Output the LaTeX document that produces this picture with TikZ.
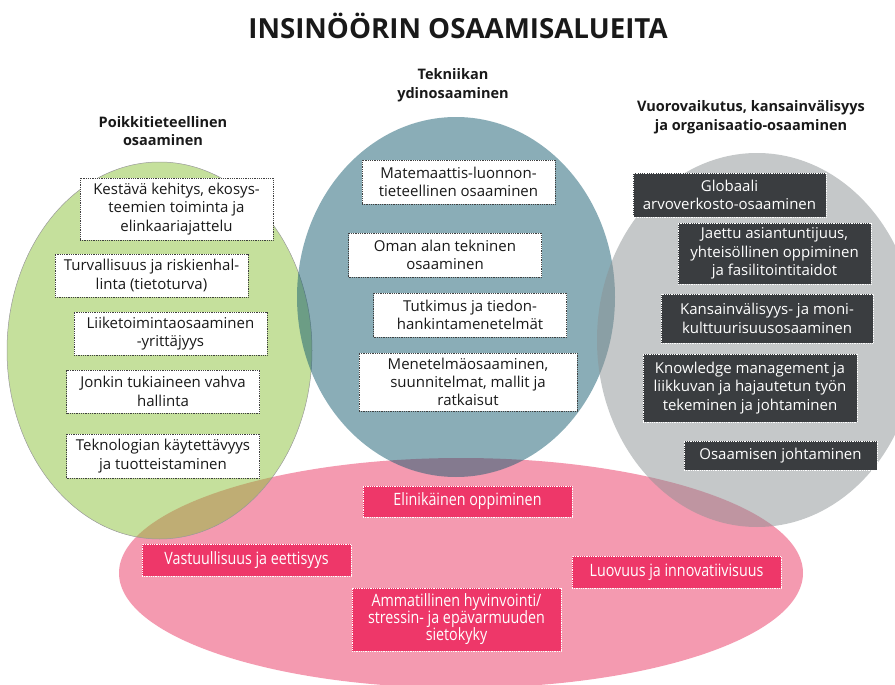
\documentclass[tikz,border=0pt]{standalone}
\usepackage{fontspec}
\setmainfont{Open Sans}
\newfontfamily\narrowfont{Open Sans}[FakeStretch=0.84]
\usepackage{tikz}
\usepackage{xcolor}

\definecolor{leafgreen}{RGB}{139,193,57}
\definecolor{petrol}{RGB}{21,91,111}
\definecolor{stonegray}{RGB}{139,145,147}
\definecolor{rose}{RGB}{233,53,97}
\definecolor{boxrose}{RGB}{238,55,105}
\definecolor{boxdark}{RGB}{58,61,64}

\tikzset{
  blob/.style={fill opacity=0.5},
  skillbox/.style={line width=0.6pt,dash pattern=on 0.9pt off 0.9pt,align=center,
    inner sep=2pt,minimum width=193pt,font=\fontsize{15}{18.3}\selectfont},
  whitebox/.style={skillbox,draw=black!75,fill=white,text=black!90},
  darkbox/.style={skillbox,draw=white,fill=boxdark,text=white},
  rosebox/.style={skillbox,draw=white,fill=boxrose,text=white,minimum width=209pt,
    font=\narrowfont\fontsize{17}{17}\selectfont},
  areatitle/.style={align=center,text=black!90,font=\bfseries\fontsize{14.5}{18.5}\selectfont}
}

\begin{document}
\begin{tikzpicture}[x=1pt,y=-1pt]
  \useasboundingbox (0,0) rectangle (895,685);

  % the four areas
  \fill[rose,blob] (461,573) ellipse (342 and 115);
  \fill[leafgreen,blob] (159.5,350.5) ellipse (152.5 and 188.5);
  \draw[gray!80,line width=0.5pt] (159.5,350.5) ellipse (152.5 and 188.5);
  \fill[petrol,blob] (456,297) ellipse (159 and 180);
  \fill[stonegray,blob] (757,340) ellipse (160 and 187);

  \node[font=\bfseries\fontsize{27.7}{32}\selectfont,text=black!90] (title) at (458,26) {INSINÖÖRIN OSAAMISALUEITA};

  \node[areatitle] (poikki) at (163,131) {Poikkitieteellinen\\osaaminen};
  \node[areatitle] (tekniikka) at (453,85) {Tekniikan\\ydinosaaminen};
  \node[areatitle] (vuoro) at (751,117) {Vuorovaikutus, kansainvälisyys\\ja organisaatio-osaaminen};

  % poikkitieteellinen
  \node[whitebox,minimum height=62pt] (kestava) at (176.5,209) {Kestävä kehitys, ekosys-\\teemien toiminta ja\\elinkaariajattelu};
  \node[whitebox,minimum height=43pt] (turva) at (151.5,275.5) {Turvallisuus ja riskienhal-\\linta (tietoturva)};
  \node[whitebox,minimum height=43pt] (liike) at (170.5,333.5) {Liiketoimintaosaaminen\\-yrittäjyys};
  \node[whitebox,minimum height=43pt] (tuki) at (163,391.5) {Jonkin tukiaineen vahva\\hallinta};
  \node[whitebox,minimum height=44pt] (tekno) at (163,456) {Teknologian käytettävyys\\ja tuotteistaminen};

  % tekniikan ydinosaaminen
  \node[whitebox,minimum height=44pt] (mate) at (458.5,182) {Matemaattis-luonnon-\\tieteellinen osaaminen};
  \node[whitebox,minimum height=44pt] (oman) at (445,255) {Oman alan tekninen\\osaaminen};
  \node[whitebox,minimum height=44pt] (tutkimus) at (470,315) {Tutkimus ja tiedon-\\hankintamenetelmät};
  \node[whitebox,minimum width=218pt,minimum height=58pt] (menetelma) at (468,382) {Menetelmäosaaminen,\\suunnitelmat, mallit ja\\ratkaisut};

  % vuorovaikutus
  \node[darkbox,minimum height=44pt] (globaali) at (729.5,195) {Globaali\\arvoverkosto-osaaminen};
  \node[darkbox,minimum height=61pt] (jaettu) at (774.5,253.5) {Jaettu asiantuntijuus,\\yhteisöllinen oppiminen\\ja fasilitointitaidot};
  \node[darkbox,minimum width=212pt,minimum height=49pt] (kansainv) at (767,318.5) {Kansainvälisyys- ja moni-\\kulttuurisuusosaaminen};
  \node[darkbox,minimum width=214pt,minimum height=68pt] (knowledge) at (750,388) {Knowledge management ja\\liikkuvan ja hajautetun työn\\tekeminen ja johtaminen};
  \node[darkbox,minimum height=29pt] (johtaminen) at (780.5,455.5) {Osaamisen johtaminen};

  % yhteiset
  \node[rosebox,minimum height=31pt] (elinikainen) at (467.5,501.5) {Elinikäinen oppiminen};
  \node[rosebox,minimum height=32pt] (vastuu) at (246.5,560) {Vastuullisuus ja eettisyys};
  \node[rosebox,minimum height=32pt] (luovuus) at (676.5,572) {Luovuus ja innovatiivisuus};
  \node[rosebox,minimum height=63pt] (hyvinvointi) at (456.5,619.5) {Ammatillinen hyvinvointi/\\stressin- ja epävarmuuden\\sietokyky};
\end{tikzpicture}
\end{document}
